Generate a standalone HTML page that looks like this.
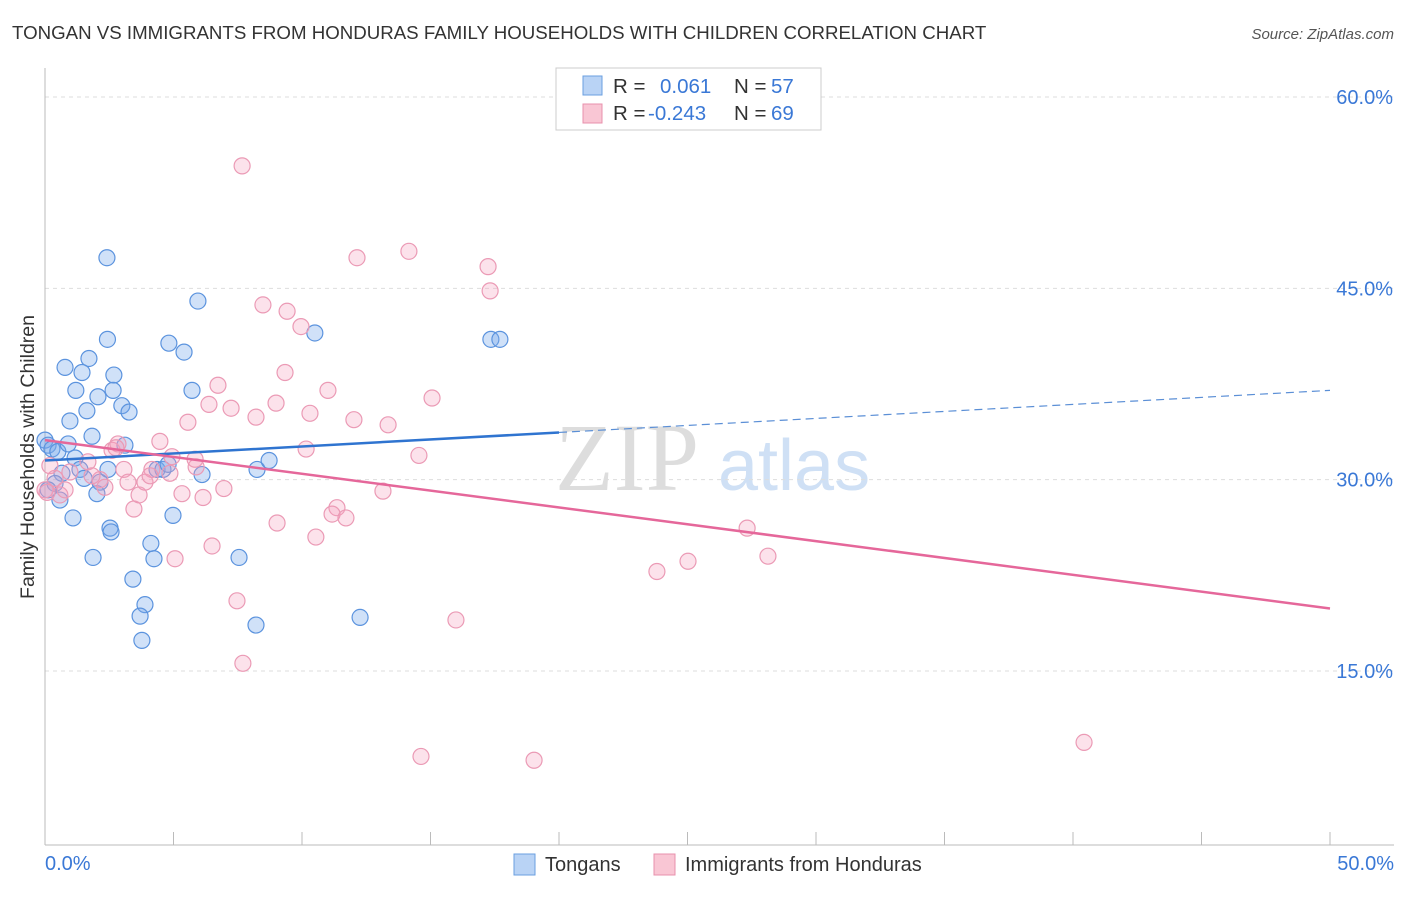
<!DOCTYPE html>
<html><head><meta charset="utf-8"><style>
body{margin:0;background:#fff;font-family:"Liberation Sans",sans-serif}
</style></head><body>
<svg width="1406" height="892" xmlns="http://www.w3.org/2000/svg" id="chart" font-family="Liberation Sans, sans-serif">
<text x="12" y="39" font-size="18.7" fill="#333">TONGAN VS IMMIGRANTS FROM HONDURAS FAMILY HOUSEHOLDS WITH CHILDREN CORRELATION CHART</text>
<text x="1394" y="39" font-size="15" fill="#555" text-anchor="end" font-style="italic">Source: ZipAtlas.com</text>
<text x="555" y="490" font-size="96" fill="#ddd" font-family="Liberation Serif, serif">ZIP</text>
<text x="718" y="490" font-size="72" fill="#cfe0f5">atlas</text>
<text transform="translate(34,457) rotate(-90)" font-size="19.5" fill="#333" text-anchor="middle">Family Households with Children</text>
<g id="grid"></g><g id="axes"></g><g id="pts"></g><g id="trend"></g>
<g>
<rect x="556" y="68" width="265" height="62" fill="#fff" stroke="#ccc"/>
<rect x="583" y="76" width="19" height="19" fill="#b9d3f5" stroke="#6a9fe0"/>
<rect x="583" y="104" width="19" height="19" fill="#f9c6d4" stroke="#e890ac"/>
<text x="613" y="93" font-size="20.5" fill="#333">R = </text><text x="660" y="93" font-size="20.5" fill="#3a78d6">0.061</text>
<text x="734" y="93" font-size="20.5" fill="#333">N = </text><text x="771" y="93" font-size="20.5" fill="#3a78d6">57</text>
<text x="613" y="120" font-size="20.5" fill="#333">R = </text><text x="648" y="120" font-size="20.5" fill="#3a78d6">-0.243</text>
<text x="734" y="120" font-size="20.5" fill="#333">N = </text><text x="771" y="120" font-size="20.5" fill="#3a78d6">69</text>
</g>
<g>
<rect x="514" y="854" width="21" height="21" fill="#b9d3f5" stroke="#6a9fe0"/>
<text x="545" y="871" font-size="20" fill="#333">Tongans</text>
<rect x="654" y="854" width="21" height="21" fill="#f9c6d4" stroke="#e890ac"/>
<text x="685" y="871" font-size="20" fill="#333">Immigrants from Honduras</text>
</g>
</svg>
<script>
const yTicks=[15,30,45,60];
const yTickLabels=["15.0%","30.0%","45.0%","60.0%"];
const xTicks=[0,5,10,15,20,25,30,35,40,45,50];
const blueX=[0,0.12,0.27,0.5,0.9,0.66,1.17,2.41,0.78,1.71,2.43,1.44,1.2,2.06,2.68,2.65,0.97,1.63,2.99,3.27,1.83,3.11,1.36,1.52,2.14,2.02,2.45,1.09,2.53,2.57,1.87,4.12,4.24,3.42,3.89,3.7,3.77,5.95,4.82,5.41,5.72,4.36,4.59,4.79,6.11,4.98,7.55,8.21,8.25,8.72,10.5,12.26,17.35,17.7,0.39,0.58,0.12];
const blueY=[33.1,32.7,32.4,32.2,32.8,30.5,31.7,47.4,38.8,39.5,41.0,38.4,37.0,36.5,38.2,37.0,34.6,35.4,35.8,35.3,33.4,32.7,30.8,30.1,29.8,28.9,30.8,27.0,26.2,25.9,23.9,25.0,23.8,22.2,20.2,19.3,17.4,44.0,40.7,40.0,37.0,30.8,30.8,31.2,30.4,27.2,23.9,18.6,30.8,31.5,41.5,19.2,41.0,41.0,29.7,28.4,29.2];
const pinkX=[7.67,0,0.39,0.58,0.78,1.67,2.14,2.33,2.61,2.84,3.07,3.23,3.46,3.66,3.89,4.16,4.47,4.94,5.56,5.33,6.15,5.88,5.06,6.5,6.73,6.38,7.24,6.96,7.47,7.7,8.48,8.21,8.99,9.34,9.42,9.96,10.31,10.16,9.03,10.54,11.01,11.36,11.17,11.71,12.02,13.35,13.15,12.14,14.16,15.06,14.55,14.63,15.99,17.24,17.32,19.03,23.81,25.02,27.32,28.13,40.43,0.08,0.19,0.97,1.83,2.76,4.86,5.84,4.09];
const pinkY=[54.6,29.2,30.1,28.8,29.2,31.4,30.0,29.4,32.3,32.8,30.8,29.8,27.7,28.8,29.8,30.8,33.0,31.8,34.5,28.9,28.6,31.0,23.8,24.8,37.4,35.9,35.6,29.3,20.5,15.6,43.7,34.9,36.0,38.4,43.2,42.0,35.2,32.4,26.6,25.5,37.0,27.8,27.3,27.0,34.7,34.3,29.1,47.4,47.9,36.4,31.9,8.3,19.0,46.7,44.8,8.0,22.8,23.6,26.2,24.0,9.4,29.0,31.1,30.6,30.3,32.5,30.5,31.6,30.3];
const blueTrend=[31.5,37.0];
const pinkTrend=[33.1,19.9];
const blueSolidEnd=20;

const NS="http://www.w3.org/2000/svg";
const X=v=>45+v/50*1285;
const Y=v=>862.3-v*12.755;
function mk(tag,attrs,parent){const e=document.createElementNS(NS,tag);for(const k in attrs)e.setAttribute(k,attrs[k]);document.getElementById(parent).appendChild(e);return e;}
yTicks.forEach((t,i)=>{
 const l=mk('line',{x1:45,x2:1394,y1:Y(t),y2:Y(t),stroke:'#ddd','stroke-dasharray':'4,4'},'grid');
 
 
 const tx=mk('text',{x:1393,y:Y(t)+7,'font-size':20,fill:'#3a78d6','text-anchor':'end'},'grid');
 tx.textContent=yTickLabels[i];
 
 
});
const ax=mk('line',{x1:45,x2:1394,y1:845,y2:845,stroke:'#bbb'},'axes');


const ay=mk('line',{x1:45,x2:45,y1:68,y2:845,stroke:'#bbb'},'axes');


xTicks.forEach(t=>{const l=mk('line',{x1:X(t),x2:X(t),y1:832,y2:845,stroke:'#bbb'},'axes');
 
 });
const x0=mk('text',{x:45,y:870,'font-size':20,fill:'#3a78d6'},'axes');x0.textContent='0.0%';


const x1=mk('text',{x:1394,y:870,'font-size':20,fill:'#3a78d6','text-anchor':'end'},'axes');x1.textContent='50.0%';


blueX.forEach((v,i)=>{const c=mk('circle',{cx:X(v),cy:Y(blueY[i]),r:8,fill:'rgba(120,170,235,0.35)',stroke:'#5b93de','stroke-width':1.2},'pts');
 
 });
pinkX.forEach((v,i)=>{const c=mk('circle',{cx:X(v),cy:Y(pinkY[i]),r:8,fill:'rgba(245,160,190,0.3)',stroke:'#eb9ab5','stroke-width':1.2},'pts');
 
 });
const bAt=x=>blueTrend[0]+(blueTrend[1]-blueTrend[0])*x/50;
const b1=mk('line',{x1:X(0),y1:Y(blueTrend[0]),x2:X(blueSolidEnd),y2:Y(bAt(blueSolidEnd)),stroke:'#2f74d0','stroke-width':2.5},'trend');


const b2=mk('line',{x1:X(blueSolidEnd),y1:Y(bAt(blueSolidEnd)),x2:X(50),y2:Y(blueTrend[1]),stroke:'#5b8fd6','stroke-width':1.2,'stroke-dasharray':'8,5'},'trend');


const p1=mk('line',{x1:X(0),y1:Y(pinkTrend[0]),x2:X(50),y2:Y(pinkTrend[1]),stroke:'#e5679a','stroke-width':2.5},'trend');


</script>
</body></html>
